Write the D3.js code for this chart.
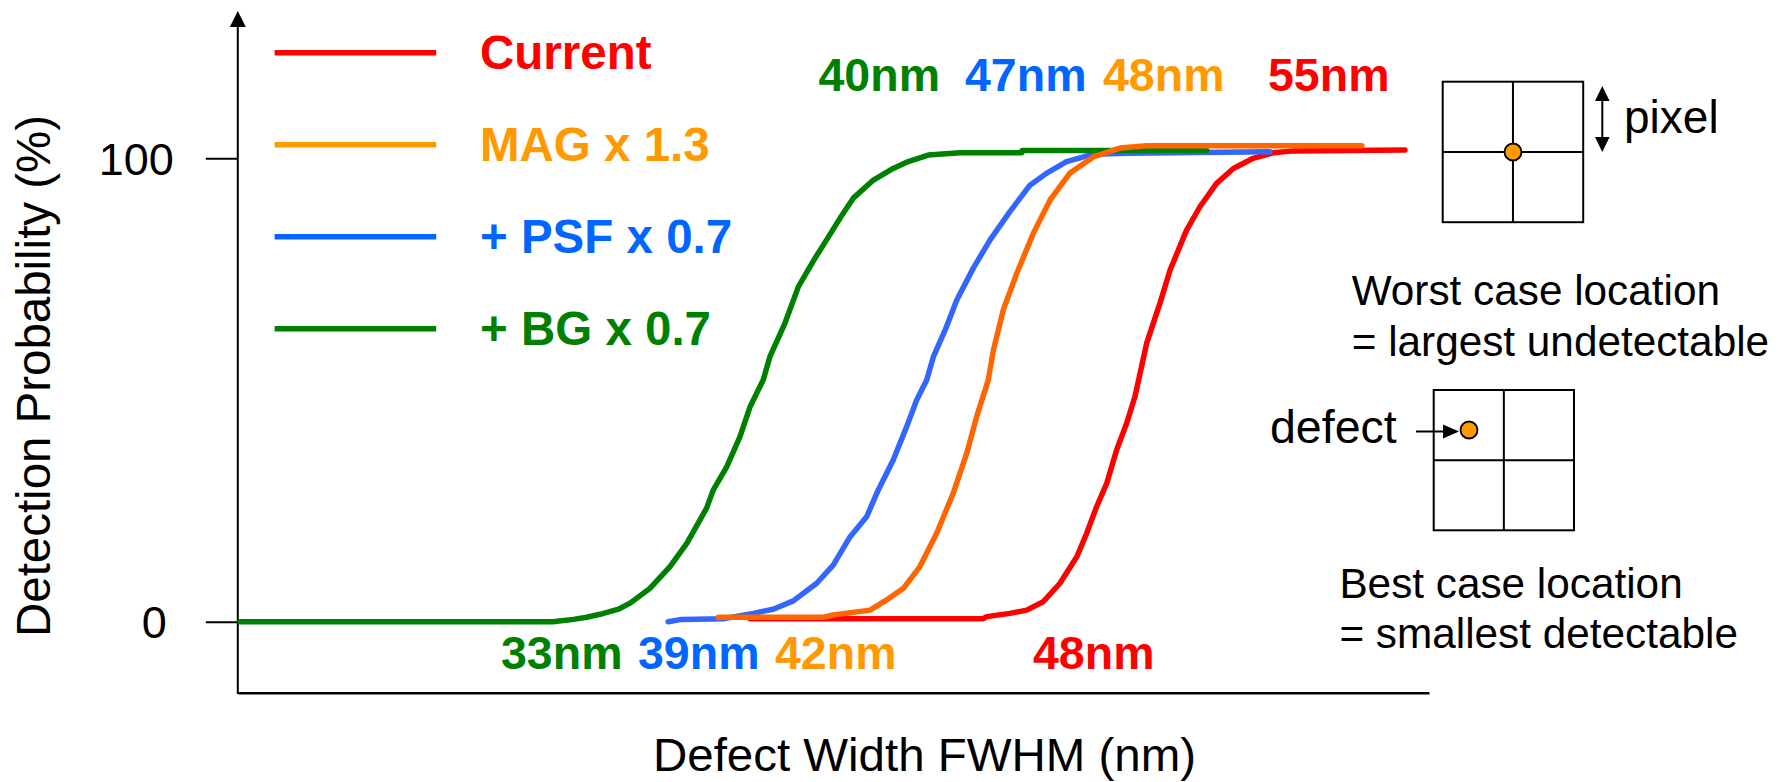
<!DOCTYPE html>
<html>
<head>
<meta charset="utf-8">
<script src="https://cdn.jsdelivr.net/npm/d3@7"></script>
<style>
  html, body { margin: 0; padding: 0; background: #ffffff; }
  svg { display: block; font-family: "Liberation Sans", Arial, Helvetica, sans-serif; }
</style>
</head>
<body>
<svg id="chart" width="1780" height="782"></svg>
<script>
// ---- Series ----
const seriesNames  = ["Current", "MAG x 1.3", "+ PSF x 0.7", "+ BG x 0.7"];
const legendColors = ["#FF0000", "#FF9900", "#0066FF", "#008000"];
const curveColors  = ["#FF0000", "#FF6600", "#3366FF", "#008000"];

// Detection probability (%) against defect width (nm)
const currentNm  = [39.07, 46.84, 46.96, 47.73, 48.29, 48.84, 49.40, 49.96, 50.29, 50.62, 50.96, 51.29, 51.62, 51.90, 52.29, 52.73, 53.07, 53.62, 54.07, 54.62, 55.18, 55.84, 56.51, 57.18, 60.90];
const currentPct = [0.65, 0.65, 1.1, 1.8, 2.5, 4.3, 8.3, 14.0, 19.1, 24.8, 29.9, 37.1, 42.8, 48.6, 60.1, 68.7, 75.9, 84.5, 89.6, 94.6, 97.8, 100.0, 101.2, 101.6, 101.8];

const magNm  = [38.01, 41.51, 41.84, 43.07, 43.62, 44.18, 44.73, 45.29, 45.84, 46.29, 46.62, 47.01, 47.18, 47.51, 47.96, 48.51, 49.07, 49.73, 50.51, 51.40, 52.29, 59.46];
const magPct = [0.95, 0.95, 1.45, 2.5, 4.7, 7.2, 11.9, 19.1, 27.7, 36.3, 44.2, 52.2, 58.6, 67.3, 75.2, 83.8, 91.0, 96.8, 100.3, 102.2, 102.7, 102.7];

const psfNm  = [36.34, 36.79, 38.18, 39.18, 39.84, 40.51, 41.29, 41.84, 42.40, 42.96, 43.29, 43.84, 44.29, 44.62, 44.96, 45.18, 45.57, 45.96, 46.51, 47.07, 47.73, 48.40, 48.96, 49.62, 50.51, 51.62, 56.40];
const psfPct = [0, 0.5, 0.65, 1.8, 2.7, 4.5, 8.3, 12.2, 18.3, 22.7, 27.7, 34.9, 42.1, 47.8, 52.2, 57.2, 62.9, 69.4, 76.3, 82.4, 88.5, 94.2, 96.8, 99.3, 100.9, 101.1, 101.4];

const bgNm  = [22.07, 32.50, 33.18, 33.62, 34.07, 34.68, 35.07, 35.73, 36.40, 36.96, 37.62, 37.84, 38.29, 38.73, 39.07, 39.51, 39.73, 40.23, 40.68, 41.23, 41.62, 42.07, 42.51, 43.18, 43.84, 44.34, 45.01, 46.07, 48.13, 48.14, 54.29];
const bgPct = [0, 0, 0.5, 0.95, 1.6, 2.7, 4.0, 7.2, 11.9, 16.9, 24.5, 28.4, 33.4, 39.9, 46.4, 52.2, 57.2, 64.4, 72.3, 78.4, 82.4, 87.1, 91.4, 95.3, 97.8, 99.3, 100.7, 101.2, 101.2, 101.7, 101.7];

const yTickValues = [0, 100];

// Threshold annotations: largest undetectable (top) and smallest detectable (bottom)
const upperLabels = ["40nm", "47nm", "48nm", "55nm"];
const upperColors = ["#008000", "#0066FF", "#FF9900", "#FF0000"];
const lowerLabels = ["33nm", "39nm", "42nm", "48nm"];
const lowerColors = ["#008000", "#0066FF", "#FF9900", "#FF0000"];

// ---- Layout ----
const svg = d3.select("#chart");
const x = d3.scaleLinear().domain([22, 61.7]).range([238, 1429]);
const y = d3.scaleLinear().domain([0, 100]).range([621.7, 158.3]);
const axisX = 237.8;
const axisBottomY = 692.7;

// ---- Axes ----
// x axis: plain line, no ticks
svg.append("g")
  .attr("transform", `translate(0,${axisBottomY})`)
  .call(d3.axisBottom(x).tickValues([]).tickSizeOuter(0))
  .call(g => g.select(".domain").attr("stroke", "#000").attr("stroke-width", 2.5));

// y axis spine with arrow head
svg.append("line")
  .attr("x1", axisX).attr("x2", axisX)
  .attr("y1", 24).attr("y2", axisBottomY + 1.2)
  .attr("stroke", "#000").attr("stroke-width", 2);
svg.append("path")
  .attr("d", d3.line()([[axisX, 11], [axisX - 8, 27], [axisX + 8, 27]]) + "Z")
  .attr("fill", "#000");

// y ticks and labels
const yAxisG = svg.append("g")
  .attr("transform", `translate(${axisX},0)`)
  .call(d3.axisLeft(y).tickValues(yTickValues).tickSize(32).tickPadding(32).tickFormat(d3.format("d")));
yAxisG.select(".domain").remove();
yAxisG.selectAll(".tick line").attr("stroke", "#000").attr("stroke-width", 2);
yAxisG.selectAll(".tick text")
  .attr("fill", "#000")
  .attr("font-size", 45)
  .attr("font-family", "'Liberation Sans', Arial, sans-serif")
  .attr("dy", "0.35em")
  .attr("dx", d => d === 0 ? -7 : 0);

// axis titles
svg.append("text")
  .attr("x", 924.5).attr("y", 771)
  .attr("text-anchor", "middle")
  .attr("font-size", 47)
  .attr("textLength", 543)
  .attr("lengthAdjust", "spacingAndGlyphs")
  .text("Defect Width FWHM (nm)");
svg.append("text")
  .attr("transform", "translate(50,376) rotate(-90)")
  .attr("text-anchor", "middle")
  .attr("font-size", 48)
  .attr("textLength", 522)
  .attr("lengthAdjust", "spacingAndGlyphs")
  .text("Detection Probability (%)");

// ---- Curves ----
const line = d3.line()
  .x(d => x(d[0]))
  .y(d => y(d[1]));

const curves = [
  { nm: currentNm, pct: currentPct, color: curveColors[0] },
  { nm: psfNm,     pct: psfPct,     color: curveColors[2] },
  { nm: bgNm,      pct: bgPct,      color: curveColors[3] },
  { nm: magNm,     pct: magPct,     color: curveColors[1] }
];

svg.append("g").selectAll("path")
  .data(curves)
  .join("path")
  .attr("d", c => line(d3.zip(c.nm, c.pct)))
  .attr("fill", "none")
  .attr("stroke", c => c.color)
  .attr("stroke-width", 5.5)
  .attr("stroke-linejoin", "round")
  .attr("stroke-linecap", "round");

// ---- Legend ----
const legend = svg.append("g");
const legendRow = i => 52.7 + i * 92;
legend.selectAll("line")
  .data(seriesNames)
  .join("line")
  .attr("x1", 274.6).attr("x2", 436.2)
  .attr("y1", (d, i) => legendRow(i)).attr("y2", (d, i) => legendRow(i))
  .attr("stroke", (d, i) => legendColors[i])
  .attr("stroke-width", 5.5);
legend.selectAll("text")
  .data(seriesNames)
  .join("text")
  .attr("x", 480)
  .attr("y", (d, i) => legendRow(i) + 16.5)
  .attr("fill", (d, i) => legendColors[i])
  .attr("font-size", 47.5)
  .attr("font-weight", "bold")
  .text(d => d);

// ---- Threshold annotations ----
const upperX = [818.5, 965, 1103, 1268];
const lowerX = [501, 638, 775, 1033];
svg.append("g").selectAll("text")
  .data(upperLabels)
  .join("text")
  .attr("x", (d, i) => upperX[i]).attr("y", 90.7)
  .attr("fill", (d, i) => upperColors[i])
  .attr("font-size", 46.5).attr("font-weight", "bold")
  .text(d => d);
svg.append("g").selectAll("text")
  .data(lowerLabels)
  .join("text")
  .attr("x", (d, i) => lowerX[i]).attr("y", 669.3)
  .attr("fill", (d, i) => lowerColors[i])
  .attr("font-size", 46.5).attr("font-weight", "bold")
  .text(d => d);

// ---- Pixel grid sketches ----
function pixelGrid(g, x0, y0, size) {
  g.append("rect")
    .attr("x", x0).attr("y", y0).attr("width", size).attr("height", size)
    .attr("fill", "none").attr("stroke", "#000").attr("stroke-width", 2);
  g.append("line")
    .attr("x1", x0 + size / 2).attr("x2", x0 + size / 2)
    .attr("y1", y0).attr("y2", y0 + size)
    .attr("stroke", "#000").attr("stroke-width", 2);
  g.append("line")
    .attr("x1", x0).attr("x2", x0 + size)
    .attr("y1", y0 + size / 2).attr("y2", y0 + size / 2)
    .attr("stroke", "#000").attr("stroke-width", 2);
}

// worst case: defect centred on the pixel corner
const worst = svg.append("g");
pixelGrid(worst, 1442.7, 81.7, 140.5);
worst.append("circle")
  .attr("cx", 1513).attr("cy", 152).attr("r", 8.5)
  .attr("fill", "#FF9900").attr("stroke", "#000").attr("stroke-width", 1.8);
// pixel size double arrow
worst.append("line")
  .attr("x1", 1602.3).attr("x2", 1602.3).attr("y1", 96).attr("y2", 142)
  .attr("stroke", "#000").attr("stroke-width", 2);
worst.append("path")
  .attr("d", d3.line()([[1602.3, 86], [1595, 101], [1609.6, 101]]) + "Z")
  .attr("fill", "#000");
worst.append("path")
  .attr("d", d3.line()([[1602.3, 152], [1595, 137], [1609.6, 137]]) + "Z")
  .attr("fill", "#000");
worst.append("text")
  .attr("x", 1624).attr("y", 133.3)
  .attr("font-size", 46)
  .text("pixel");
worst.append("text")
  .attr("x", 1351.7).attr("y", 305)
  .attr("font-size", 42.3)
  .text("Worst case location");
worst.append("text")
  .attr("x", 1351.7).attr("y", 356)
  .attr("font-size", 42.3)
  .text("= largest undetectable");

// best case: defect centred inside a pixel
const best = svg.append("g");
pixelGrid(best, 1433.7, 390, 140.3);
best.append("circle")
  .attr("cx", 1469).attr("cy", 430).attr("r", 8.5)
  .attr("fill", "#FF9900").attr("stroke", "#000").attr("stroke-width", 1.8);
best.append("line")
  .attr("x1", 1416).attr("x2", 1446).attr("y1", 431.5).attr("y2", 431.5)
  .attr("stroke", "#000").attr("stroke-width", 2);
best.append("path")
  .attr("d", d3.line()([[1459, 431.5], [1443, 424.5], [1443, 438.5]]) + "Z")
  .attr("fill", "#000");
best.append("text")
  .attr("x", 1270).attr("y", 443.3)
  .attr("font-size", 46.5)
  .text("defect");
best.append("text")
  .attr("x", 1339.4).attr("y", 598.3)
  .attr("font-size", 42.3)
  .text("Best case location");
best.append("text")
  .attr("x", 1339.4).attr("y", 648.3)
  .attr("font-size", 42.3)
  .text("= smallest detectable");
</script>
</body>
</html>
